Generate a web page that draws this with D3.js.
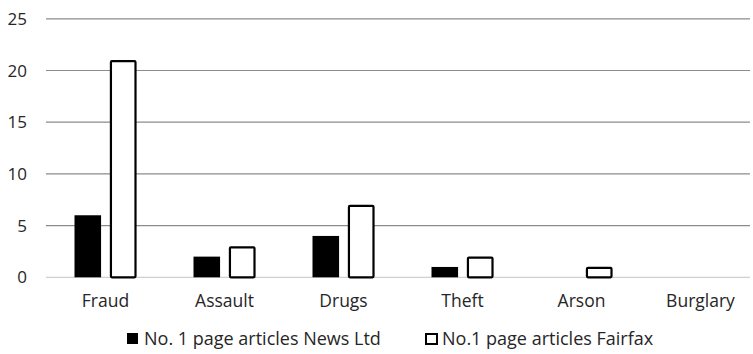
<html>
  <meta charset="utf-8" />
  <script src="https://d3js.org/d3.v7.min.js"></script>
  <style>
    body { margin: 0; background: #fff; }
    text { font-family: "Open Sans", Lato, sans-serif; fill: #262626; }
  </style>
  <body>
    <svg width="753" height="354" id="chart"></svg>
  </body>
  <script>
    const categories = ["Fraud", "Assault", "Drugs", "Theft", "Arson", "Burglary"];
    const newsLtd = [6, 2, 4, 1, 0, 0];
    const fairfax = [21, 3, 7, 2, 1, 0];
    const yTicks = [0, 5, 10, 15, 20, 25];
    const seriesNames = ["No. 1 page articles News Ltd", "No.1 page articles Fairfax"];

    const svg = d3.select("#chart");

    const x = d3.scaleBand().domain(categories).range([46, 760]);
    const xInner = d3
      .scaleBand()
      .domain([0, 1])
      .range([x.bandwidth() / 2 - 31, x.bandwidth() / 2 + 31])
      .paddingInner(0.25);
    const y = d3.scaleLinear().domain([0, 25]).range([277.3, 18.8]);

    // gridlines
    svg
      .append("g")
      .selectAll("line")
      .data(yTicks)
      .join("line")
      .attr("x1", 46)
      .attr("x2", 750)
      .attr("y1", (d) => y(d))
      .attr("y2", (d) => y(d))
      .attr("stroke", (d) => (d === 0 ? "#d0d0d0" : "#8c8c8c"))
      .attr("stroke-width", 1.2);

    // y labels
    svg
      .append("g")
      .selectAll("text")
      .data(yTicks)
      .join("text")
      .attr("x", 27)
      .attr("y", (d) => y(d) + 6)
      .attr("text-anchor", "end")
      .attr("font-size", 17)
      .text((d) => d);

    // bars
    const groups = svg
      .append("g")
      .selectAll("g")
      .data(categories)
      .join("g")
      .attr("transform", (d) => `translate(${x(d)},0)`);

    groups
      .append("rect")
      .attr("x", xInner(0))
      .attr("width", xInner.bandwidth())
      .attr("y", (d, i) => y(newsLtd[i]))
      .attr("height", (d, i) => y(0) - y(newsLtd[i]))
      .attr("fill", "#000");

    groups
      .filter((d, i) => fairfax[i] > 0)
      .append("rect")
      .attr("x", (d) => xInner(1) + 1)
      .attr("width", xInner.bandwidth() - 2)
      .attr("y", (d) => y(fairfax[categories.indexOf(d)]) + 1)
      .attr("height", (d) => y(0) - y(fairfax[categories.indexOf(d)]) - 1)
      .attr("fill", "#fff")
      .attr("stroke", "#000")
      .attr("stroke-width", 2.2)
      .attr("rx", 1);

    // category labels
    svg
      .append("g")
      .selectAll("text")
      .data(categories)
      .join("text")
      .attr("x", (d) => x(d) + x.bandwidth() / 2)
      .attr("y", 307)
      .attr("text-anchor", "middle")
      .attr("font-size", 17.5)
      .text((d) => d);

    // legend
    const legend = svg
      .append("g")
      .selectAll("g")
      .data(seriesNames)
      .join("g")
      .attr("transform", (d, i) => `translate(${i === 0 ? 127 : 425},0)`);

    legend
      .append("rect")
      .attr("x", (d, i) => (i === 0 ? 0 : 1))
      .attr("y", (d, i) => (i === 0 ? 333 : 334))
      .attr("width", 11)
      .attr("height", (d, i) => (i === 0 ? 11 : 10))
      .attr("fill", (d, i) => (i === 0 ? "#000" : "#fff"))
      .attr("stroke", (d, i) => (i === 0 ? "none" : "#000"))
      .attr("stroke-width", 2);

    legend
      .append("text")
      .attr("x", 17)
      .attr("y", 345)
      .attr("font-size", 18)
      .text((d) => d);
  </script>
</html>
